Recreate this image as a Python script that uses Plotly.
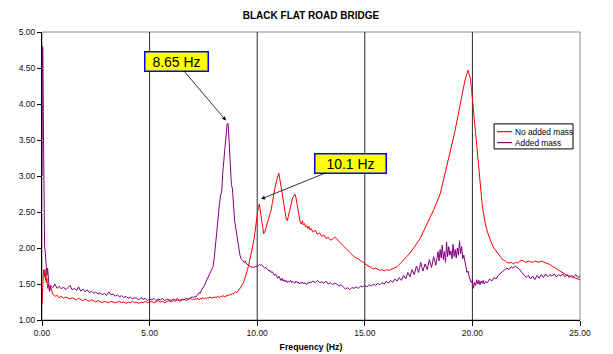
import numpy as np
import plotly.graph_objects as go

# ---- sample frequencies (Hz): dense near DC, then uniform segments ----
freq_low = [0.0, 0.02, 0.04, 0.06, 0.08, 0.10, 0.12, 0.14, 0.16, 0.18, 0.20, 0.23, 0.26, 0.30, 0.35, 0.40]
freq_segments = [(0.5, 7.0, 0.1), (7.05, 12.5, 0.05), (12.6, 18.4, 0.1), (18.45, 20.6, 0.05), (20.7, 25.0, 0.1)]

# ---- response amplitude, no added mass ----
no_mass_low = [1.22, 1.30, 1.48, 1.62, 1.70, 1.68, 1.60, 1.70, 1.55, 1.64, 1.52, 1.58, 1.44, 1.50, 1.40, 1.46]
no_mass_a = [1.36, 1.33, 1.34, 1.31, 1.33,
             1.30, 1.32, 1.31, 1.29, 1.31, 1.30, 1.28, 1.30, 1.28, 1.27,
             1.29, 1.27, 1.26, 1.28, 1.26, 1.25, 1.27, 1.25, 1.24, 1.26,
             1.25, 1.24, 1.26, 1.25, 1.24, 1.25, 1.26, 1.24, 1.25, 1.23,
             1.25, 1.24, 1.26, 1.24, 1.25, 1.23, 1.25, 1.24, 1.26, 1.24,
             1.25, 1.26, 1.24, 1.25, 1.27, 1.25, 1.26, 1.24, 1.26, 1.27,
             1.25, 1.27, 1.26, 1.28, 1.26, 1.27, 1.29, 1.27, 1.28, 1.30,
             1.28]
no_mass_b = [1.29, 1.28, 1.30, 1.29, 1.30, 1.28, 1.30, 1.29, 1.31, 1.30, 1.29, 1.31, 1.30, 1.31, 1.30, 1.32, 1.31, 1.30, 1.32,
             1.31, 1.32, 1.31, 1.33, 1.32, 1.31, 1.33, 1.32, 1.34, 1.33, 1.32, 1.34, 1.33, 1.35, 1.34, 1.36, 1.35, 1.37, 1.36, 1.38,
             1.39, 1.38, 1.40, 1.42, 1.43, 1.46, 1.49, 1.51, 1.55, 1.59, 1.64, 1.70, 1.76, 1.82, 1.88, 1.96, 2.04, 2.12, 2.24, 2.36,
             2.48, 2.56, 2.61, 2.52, 2.40, 2.28, 2.20, 2.22, 2.27, 2.31, 2.36, 2.41, 2.46, 2.53, 2.62, 2.72, 2.80, 2.88, 2.93, 2.99,
             3.04, 2.96, 2.86, 2.74, 2.64, 2.56, 2.47, 2.40, 2.38, 2.45, 2.52, 2.60, 2.66, 2.70, 2.72, 2.75, 2.70, 2.62, 2.52, 2.43,
             2.36, 2.33, 2.38, 2.32, 2.34, 2.29, 2.31, 2.27, 2.30, 2.25, 2.27]
no_mass_c = [2.22, 2.25, 2.19, 2.21,
             2.16, 2.18, 2.13, 2.15, 2.11, 2.12, 2.15, 2.13, 2.09, 2.06,
             2.03, 1.99, 1.96, 1.93, 1.91, 1.88, 1.86, 1.85, 1.82, 1.81,
             1.78, 1.76, 1.74, 1.73, 1.71, 1.72, 1.70, 1.69, 1.70, 1.68,
             1.70, 1.69, 1.70, 1.71, 1.73, 1.74, 1.77, 1.80, 1.83, 1.86,
             1.90, 1.93, 1.97, 2.01, 2.05, 2.10, 2.15, 2.21, 2.27, 2.33,
             2.40, 2.46, 2.53, 2.60, 2.67]
no_mass_d = [2.71, 2.75, 2.81, 2.87, 2.94, 3.00, 3.05, 3.11, 3.17, 3.24, 3.30,
             3.36, 3.43, 3.50, 3.57, 3.64, 3.72, 3.80, 3.88, 3.96, 4.05, 4.13, 4.20, 4.27, 4.32, 4.38, 4.42, 4.47, 4.41, 4.36, 4.24,
             4.08, 3.92, 3.74, 3.54, 3.36, 3.18, 3.02, 2.88, 2.74, 2.62, 2.51, 2.42, 2.34]
no_mass_e = [2.22, 2.13, 2.06,
             2.00, 1.96, 1.92, 1.88, 1.84, 1.83, 1.80, 1.79, 1.80, 1.78,
             1.80, 1.79, 1.82, 1.83, 1.82, 1.80, 1.82, 1.81, 1.80, 1.82,
             1.81, 1.80, 1.82, 1.81, 1.80, 1.79, 1.77, 1.75, 1.73, 1.71,
             1.69, 1.67, 1.65, 1.64, 1.62, 1.61, 1.60, 1.59, 1.58, 1.57,
             1.56]

# ---- response amplitude, added mass ----
added_mass_low = [3.00, 4.80, 4.78, 3.90, 2.70, 2.30, 2.02, 1.98, 1.90, 1.72, 1.75, 1.62, 1.72, 1.50, 1.40, 1.48]
added_mass_a = [1.45, 1.50, 1.44, 1.47, 1.43,
                1.46, 1.42, 1.45, 1.48, 1.42, 1.44, 1.41, 1.46, 1.40, 1.43,
                1.39, 1.42, 1.38, 1.40, 1.37, 1.39, 1.36, 1.38, 1.35, 1.37,
                1.34, 1.39, 1.35, 1.36, 1.33, 1.35, 1.32, 1.34, 1.31, 1.33,
                1.30, 1.32, 1.29, 1.31, 1.30, 1.28, 1.31, 1.29, 1.30, 1.27,
                1.29, 1.28, 1.30, 1.27, 1.29, 1.28, 1.30, 1.27, 1.29, 1.28,
                1.27, 1.29, 1.28, 1.30, 1.27, 1.29, 1.28, 1.30, 1.29, 1.31,
                1.32]
added_mass_b = [1.31, 1.33, 1.32, 1.35, 1.36, 1.38, 1.37, 1.41, 1.43, 1.46, 1.48, 1.52, 1.55, 1.58, 1.62, 1.63, 1.68, 1.71, 1.74,
                1.85, 2.02, 2.18, 2.38, 2.50, 2.62, 2.74, 2.78, 3.05, 3.25, 3.38, 3.62, 3.72, 3.73, 3.50, 3.12, 2.88, 2.82, 2.52, 2.38,
                2.28, 2.18, 2.05, 1.95, 1.90, 1.85, 1.84, 1.82, 1.80, 1.82, 1.78, 1.77, 1.76, 1.75, 1.74, 1.73, 1.74, 1.73, 1.74, 1.75,
                1.74, 1.76, 1.77, 1.76, 1.77, 1.75, 1.74, 1.72, 1.73, 1.71, 1.70, 1.68, 1.69, 1.66, 1.67, 1.64, 1.62, 1.64, 1.60, 1.58,
                1.61, 1.57, 1.55, 1.58, 1.54, 1.56, 1.53, 1.55, 1.52, 1.54, 1.53, 1.55, 1.52, 1.54, 1.53, 1.51, 1.54, 1.52, 1.53, 1.50,
                1.52, 1.51, 1.53, 1.50, 1.52, 1.51, 1.49, 1.52, 1.51, 1.53, 1.52]
added_mass_c = [1.54, 1.52, 1.55, 1.52,
                1.53, 1.51, 1.54, 1.50, 1.52, 1.49, 1.51, 1.50, 1.47, 1.49,
                1.46, 1.43, 1.45, 1.42, 1.45, 1.44, 1.46, 1.44, 1.47, 1.46,
                1.48, 1.46, 1.49, 1.47, 1.50, 1.48, 1.51, 1.49, 1.52, 1.50,
                1.54, 1.51, 1.55, 1.52, 1.57, 1.54, 1.59, 1.55, 1.62, 1.57,
                1.66, 1.60, 1.70, 1.63, 1.75, 1.66, 1.80, 1.68, 1.78, 1.70,
                1.84, 1.73, 1.88, 1.76, 1.95]
added_mass_d = [1.82, 1.98, 1.86, 2.04, 1.84, 1.95, 1.80, 2.08, 1.88, 2.02, 1.90,
                1.96, 1.85, 2.05, 1.88, 1.98, 1.86, 2.00, 1.90, 2.10, 1.92, 2.02, 1.85, 1.90, 1.78, 1.74, 1.66, 1.68, 1.60, 1.56, 1.52,
                1.55, 1.44, 1.52, 1.48, 1.56, 1.50, 1.55, 1.49, 1.54, 1.51, 1.55, 1.50, 1.53]
added_mass_e = [1.52, 1.57, 1.54,
                1.59, 1.57, 1.62, 1.65, 1.68, 1.70, 1.72, 1.70, 1.74, 1.72,
                1.75, 1.73, 1.70, 1.66, 1.63, 1.59, 1.62, 1.57, 1.61, 1.56,
                1.62, 1.58, 1.63, 1.59, 1.64, 1.60, 1.63, 1.61, 1.64, 1.60,
                1.63, 1.61, 1.64, 1.60, 1.63, 1.59, 1.62, 1.60, 1.63, 1.59,
                1.61]

x_ticks = [0, 5, 10, 15, 20, 25]
y_ticks = [1.0, 1.5, 2.0, 2.5, 3.0, 3.5, 4.0, 4.5, 5.0]

# ---- assemble the frequency axis ----
freq = list(freq_low)
for start, stop, step in freq_segments:
    n = int(round((stop - start) / step)) + 1
    freq += list(np.round(np.linspace(start, stop, n), 3))

no_mass = no_mass_low + no_mass_a + no_mass_b + no_mass_c + no_mass_d + no_mass_e
added_mass = added_mass_low + added_mass_a + added_mass_b + added_mass_c + added_mass_d + added_mass_e
assert len(freq) == len(no_mass) == len(added_mass), (len(freq), len(no_mass), len(added_mass))

FONT = "Arial, Liberation Sans, sans-serif"
RED = "#FF0000"
PURPLE = "#800080"

fig = go.Figure()
fig.add_trace(go.Scatter(x=freq, y=no_mass, mode="lines", name="No added mass",
                         line=dict(color=RED, width=1), showlegend=False))
fig.add_trace(go.Scatter(x=freq, y=added_mass, mode="lines", name="Added mass",
                         line=dict(color=PURPLE, width=1), showlegend=False))

# peak call-outs
callout = dict(showarrow=True, arrowhead=2, arrowsize=1, arrowwidth=0.8, arrowcolor="#000000",
               bgcolor="#FFFF00", bordercolor="#0000FF", borderwidth=1.5, borderpad=1,
               font=dict(family=FONT, size=14, color="#000000"), height=16)
fig.add_annotation(x=8.55, y=3.77, ax=-50, ay=-59, text="8.65 Hz", width=60, **callout)
fig.add_annotation(x=10.18, y=2.68, ax=89, ay=-36, text="10.1 Hz", width=68, **callout)

# plot frame: light grey border, black left/bottom axes
shapes = [dict(type="rect", xref="paper", yref="paper", x0=0, x1=1, y0=0, y1=1,
               line=dict(color="#8C8C8C", width=1), layer="below")]
for gx in x_ticks[1:-1]:
    shapes.append(dict(type="line", xref="x", yref="paper", x0=gx, x1=gx, y0=0, y1=1,
                       line=dict(color="#2A2A2A", width=1), layer="below"))

# legend box
lx0, lx1, ly0, ly1 = 0.8403, 0.987, 0.594, 0.681
shapes.append(dict(type="rect", xref="paper", yref="paper", x0=lx0, x1=lx1, y0=ly0, y1=ly1,
                   line=dict(color="#000000", width=1), fillcolor="#FFFFFF"))
legend_rows = [("No added mass", RED, 0.654), ("Added mass", PURPLE, 0.616)]
for label, color, ly in legend_rows:
    shapes.append(dict(type="line", xref="paper", yref="paper", x0=0.8459, x1=0.8737, y0=ly, y1=ly,
                       line=dict(color=color, width=1.2)))
    fig.add_annotation(xref="paper", yref="paper", x=0.8756, y=ly, xanchor="left", yanchor="middle",
                       text=label, showarrow=False, font=dict(family=FONT, size=8.3, color="#000000"))

fig.update_layout(
    width=613, height=354,
    margin=dict(l=41.5, r=33, t=32, b=34),
    paper_bgcolor="#FFFFFF", plot_bgcolor="#FFFFFF",
    shapes=shapes,
    title=dict(text="BLACK FLAT ROAD BRIDGE", x=0.5, xref="paper", y=1 - 15 / 354, yref="container",
               xanchor="center", yanchor="middle",
               font=dict(family=FONT, size=10, color="#000000", weight="bold")),
    xaxis=dict(range=[0, 25], tickvals=x_ticks, ticktext=[f"{v:.2f}" for v in x_ticks],
               automargin=False,
               showgrid=False, zeroline=False, showline=True, linecolor="#000000", linewidth=1,
               ticks="outside", ticklen=5, tickcolor="#000000", tickwidth=1,
               tickfont=dict(family=FONT, size=8.5, color="#111111"),
               title=dict(text="Frequency (Hz)", standoff=6,
                          font=dict(family=FONT, size=8.7, color="#000000", weight="bold"))),
    yaxis=dict(range=[1, 5], tickvals=y_ticks, ticktext=[f"{v:.2f}" for v in y_ticks],
               automargin=False,
               showgrid=False, zeroline=False, showline=True, linecolor="#000000", linewidth=1,
               ticks="outside", ticklen=4, tickcolor="#000000", tickwidth=1,
               tickfont=dict(family=FONT, size=8.5, color="#111111")),
)

fig.write_html("out.html")
